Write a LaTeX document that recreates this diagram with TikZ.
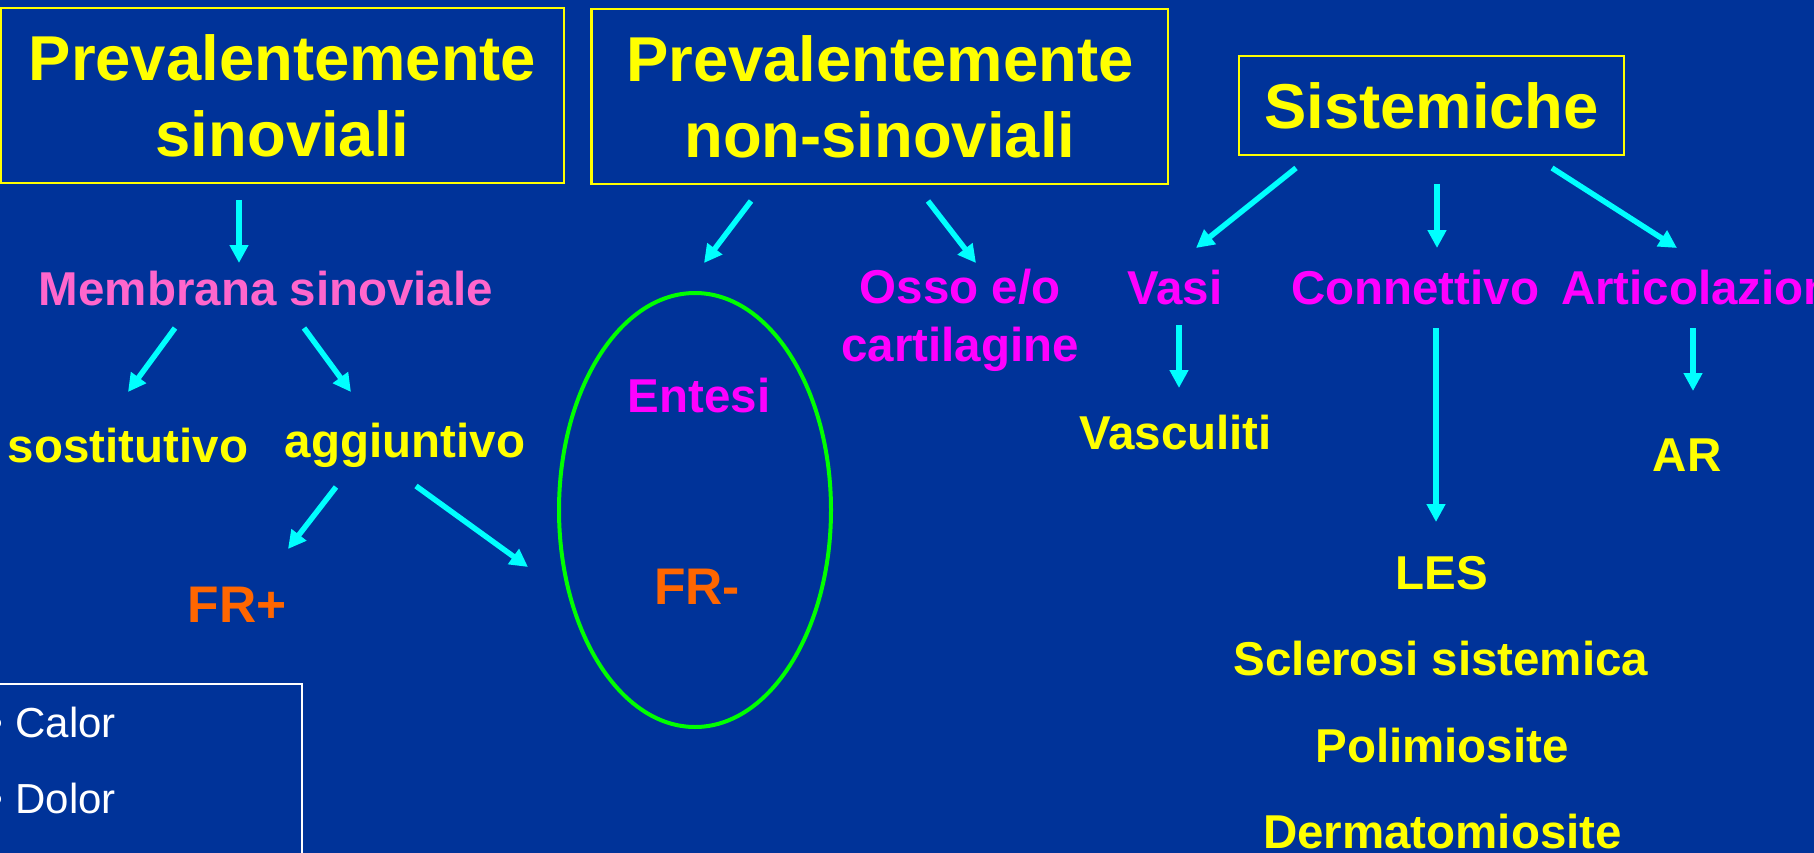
\documentclass[tikz,border=0pt]{standalone}
\usepackage{fontspec}
\setmainfont{Liberation Sans}
\usetikzlibrary{arrows.meta,shapes.geometric}
\definecolor{bgblue}{RGB}{0,51,153}
\definecolor{cyanA}{RGB}{0,255,255}
\definecolor{yel}{RGB}{255,255,0}
\definecolor{mag}{RGB}{255,0,255}
\definecolor{pinkm}{RGB}{255,102,204}
\definecolor{orng}{RGB}{255,102,0}
\definecolor{grn}{RGB}{0,255,0}
\begin{document}
\begin{tikzpicture}[x=1pt,y=-1pt,
  hdrbox/.style={draw=yel, line width=2.5pt, text=yel, inner sep=0pt, outer sep=0pt,
    align=center, font=\fontsize{63.4}{76}\selectfont\bfseries},
  lbl/.style={inner sep=0pt, outer sep=0pt, anchor=base, font=\fontsize{47.5}{58}\selectfont\bfseries},
  frlbl/.style={lbl, text=orng, font=\fontsize{51.5}{60}\selectfont\bfseries},
  bullet/.style={inner sep=0pt, outer sep=0pt, anchor=base west, text=white, font=\fontsize{42}{50}\selectfont},
  arr/.style={draw=cyanA, line width=5.5pt, -{Triangle[width=18pt,length=18pt]}}
]
\useasboundingbox (0,0) rectangle (1814,853);
\fill[bgblue] (0,0) rectangle (1814,853);

% header boxes
\node[hdrbox, minimum width=563pt, minimum height=175pt] (box1) at (282.5,95.5) {Prevalentemente\\sinoviali};
\node[hdrbox, minimum width=576.5pt, minimum height=175pt] (box2) at (879.8,96.5) {Prevalentemente\\non-sinoviali};
\node[hdrbox, minimum width=385pt, minimum height=99pt] (box3) at (1431.5,105.5) {Sistemiche};

% left branch
\node[lbl, text=pinkm] (memb) at (266,305) {Membrana sinoviale};
\node[lbl, text=yel] (sost) at (128,462) {sostitutivo};
\node[lbl, text=yel] (aggi) at (405,457) {aggiuntivo};
\node[frlbl] (frp) at (237,622) {FR+};

% middle branch
\node[draw=grn, line width=4pt, ellipse, minimum width=272pt, minimum height=434pt, inner sep=0pt] (ell) at (695,510) {};
\node[lbl, text=mag] (ent) at (699,412) {Entesi};
\node[frlbl] (frm) at (697,604) {FR-};
\node[lbl, text=mag, align=center] (osso) at (960,361) {Osso e/o\\cartilagine};

% right branch
\node[lbl, text=mag] (vasi) at (1175,304) {Vasi};
\node[lbl, text=mag] (conn) at (1415,304) {Connettivo};
\node[lbl, text=mag, anchor=base west] (artic) at (1561,304) {Articolazioni};
\node[lbl, text=yel] (vascu) at (1175.5,449) {Vasculiti};
\node[lbl, text=yel] (ar) at (1687,471) {AR};
\node[lbl, text=yel] (les) at (1442,589) {LES};
\node[lbl, text=yel] (scler) at (1441,675) {Sclerosi sistemica};
\node[lbl, text=yel] (polim) at (1442,762) {Polimiosite};
\node[lbl, text=yel] (derma) at (1442.5,848) {Dermatomiosite};

% white box with list
\node[draw=white, line width=2.5pt, inner sep=0pt, outer sep=0pt, minimum width=320pt, minimum height=200pt, anchor=north east] (signs) at (302,684) {};
\node[bullet] (calor) at (-11,737) {• Calor};
\node[bullet] (dolor) at (-11,813) {• Dolor};

% arrow end points
\coordinate (a1s) at (239,200);  \coordinate (a1e) at (239,263);
\coordinate (a2s) at (175,328);  \coordinate (a2e) at (128,392);
\coordinate (a3s) at (304,328);  \coordinate (a3e) at (351,392);
\coordinate (a4s) at (336,487);  \coordinate (a4e) at (288,549);
\coordinate (a5s) at (416,486);  \coordinate (a5e) at (528,567);
\coordinate (a6s) at (751,201);  \coordinate (a6e) at (704,263);
\coordinate (a7s) at (928,201);  \coordinate (a7e) at (976,263);
\coordinate (a8s) at (1296,168); \coordinate (a8e) at (1196,248);
\coordinate (a9s) at (1437,184); \coordinate (a9e) at (1437,248);
\coordinate (a10s) at (1552,168); \coordinate (a10e) at (1677,248);
\coordinate (a11s) at (1179,325); \coordinate (a11e) at (1179,388);
\coordinate (a12s) at (1436,328); \coordinate (a12e) at (1436,522);
\coordinate (a13s) at (1693,328); \coordinate (a13e) at (1693,391);

\draw[arr] (a1s) -- (a1e);
\draw[arr] (a2s) -- (a2e);
\draw[arr] (a3s) -- (a3e);
\draw[arr] (a4s) -- (a4e);
\draw[arr] (a5s) -- (a5e);
\draw[arr] (a6s) -- (a6e);
\draw[arr] (a7s) -- (a7e);
\draw[arr] (a8s) -- (a8e);
\draw[arr] (a9s) -- (a9e);
\draw[arr] (a10s) -- (a10e);
\draw[arr] (a11s) -- (a11e);
\draw[arr] (a12s) -- (a12e);
\draw[arr] (a13s) -- (a13e);
\end{tikzpicture}
\end{document}
